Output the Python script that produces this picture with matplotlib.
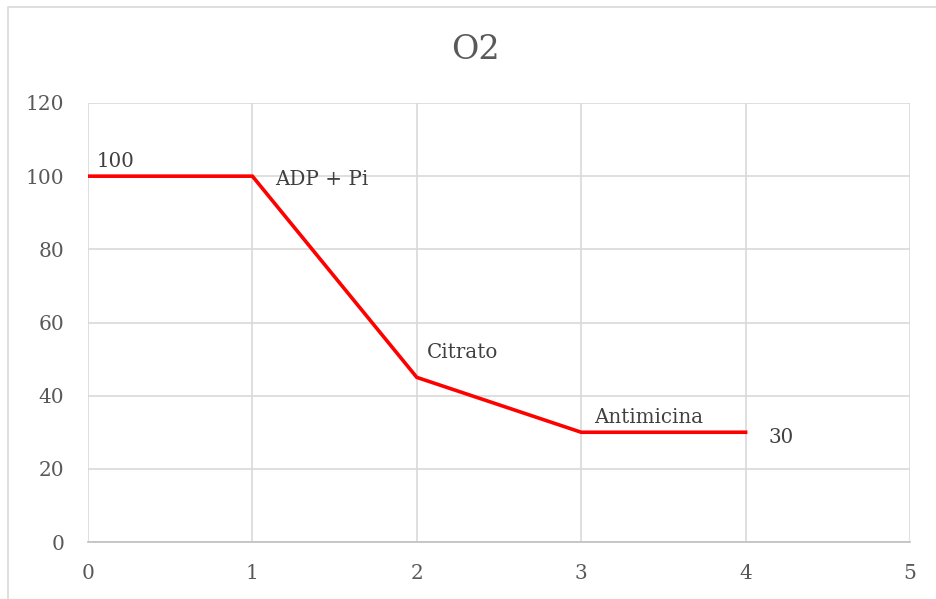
import matplotlib.pyplot as plt
from matplotlib.patches import Rectangle

# data
x = [0, 1, 2, 3, 4]
o2 = [100, 100, 45, 30, 30]
point_labels = ['100', 'ADP + Pi', 'Citrato', 'Antimicina', '30']
# baseline offsets in points for each label (dx, dy)
label_offsets = [(6.5, 6.5), (16.5, -6.5), (7, 14), (9.4, 6.7), (16.5, -7.7)]

plt.rcParams['font.family'] = ['DejaVu Serif']

fig = plt.figure(figsize=(9.36, 5.99), dpi=100)
fig.patches.append(Rectangle((8 / 936, -0.01), 1.0, 1 - 7 / 599 + 0.01,
                             transform=fig.transFigure, fill=False,
                             edgecolor='#D9D9D9', linewidth=1.2))

ax = fig.add_axes([88 / 936, 1 - 542 / 599, (910 - 88) / 936, (542 - 103) / 599])
ax.plot(x, o2, color='#FF0000', linewidth=2.6, solid_joinstyle='miter')

for xi, yi, lab, (dx, dy) in zip(x, o2, point_labels, label_offsets):
    ax.annotate(lab, (xi, yi), xytext=(dx, dy), textcoords='offset points',
                fontsize=14.3, color='#404040', va='baseline', ha='left')

ax.set_xlim(0, 5)
ax.set_ylim(0, 120)
ax.set_xticks(range(0, 6))
ax.set_yticks(range(0, 121, 20))
ax.grid(True, color='#D9D9D9', linewidth=1.2)
ax.set_axisbelow(True)
for s in ['top', 'right', 'left']:
    ax.spines[s].set_visible(False)
ax.spines['bottom'].set_color('#BFBFBF')
ax.spines['bottom'].set_linewidth(1.2)
ax.tick_params(length=0, labelsize=14.5, labelcolor='#595959')
ax.tick_params(axis='x', pad=16)
ax.tick_params(axis='y', pad=17)

fig.text(0.508, 1 - 50 / 599, 'O2', ha='center', va='center', fontsize=24,
         color='#595959')

fig.savefig('out.png', dpi=100)
